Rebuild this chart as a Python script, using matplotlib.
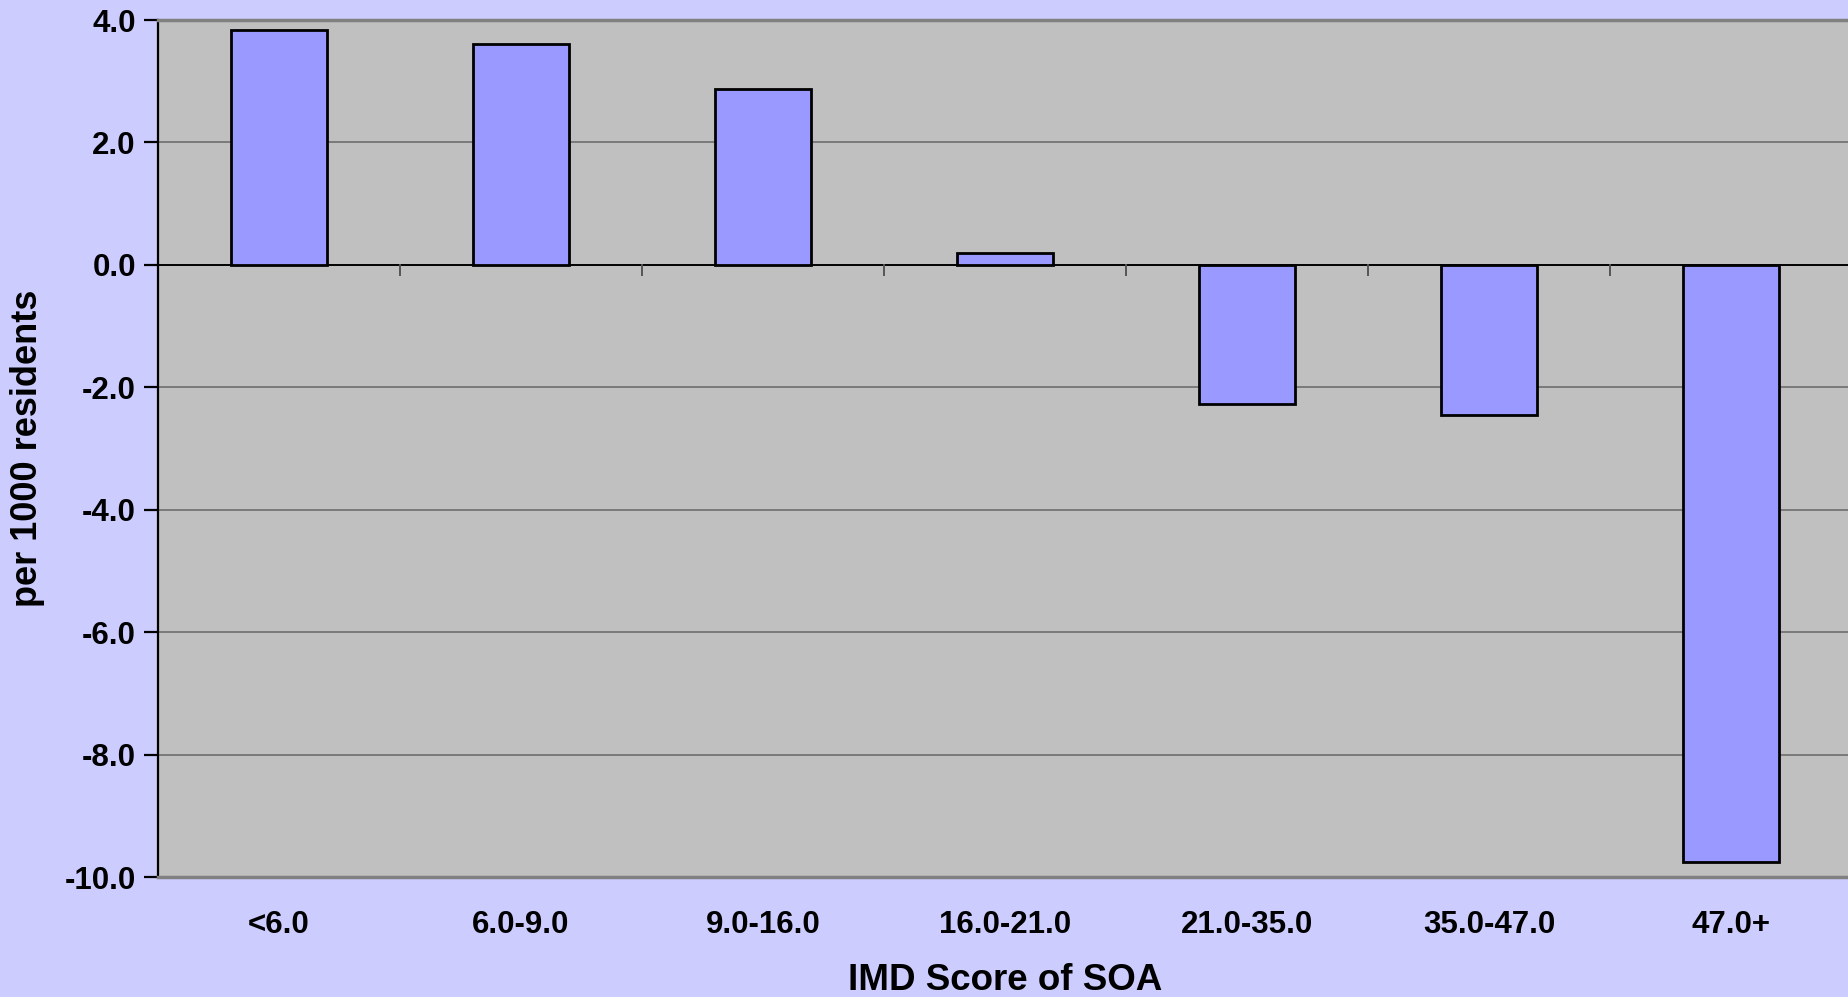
import matplotlib
matplotlib.use("Agg")
import matplotlib.pyplot as plt
import numpy as np

categories = ["<6.0", "6.0-9.0", "9.0-16.0", "16.0-21.0", "21.0-35.0", "35.0-47.0", "47.0+"]
values = [3.84, 3.61, 2.88, 0.19, -2.27, -2.45, -9.75]
y_ticks = [4.0, 2.0, 0.0, -2.0, -4.0, -6.0, -8.0, -10.0]

plt.rcParams["font.family"] = ["Liberation Sans", "DejaVu Sans"]
plt.rcParams["font.weight"] = "bold"

fig = plt.figure(figsize=(18.48, 9.97), dpi=100, facecolor="#CCCCFF")
ax = fig.add_axes([158 / 1848, 1 - 877 / 997, 1694 / 1848, 857 / 997])
ax.set_facecolor("#C0C0C0")

x = np.arange(len(categories))
ax.set_xlim(-0.5, len(categories) - 0.5)
ax.set_ylim(-10, 4)

# horizontal gridlines
for t in y_ticks:
    if t != 0:
        ax.axhline(t, color="#6E6E6E", lw=1.2, zorder=1)

ax.bar(x, values, width=0.4, color="#9999FF", edgecolor="black", linewidth=2.0, zorder=3)

# zero line with category-boundary ticks
ax.axhline(0, color="black", lw=1.4, zorder=2)
for b in np.arange(0.5, len(categories) - 0.5, 1.0):
    ax.plot([b, b], [0, -0.17], color="#555555", lw=1.4, zorder=2, clip_on=False)

for side in ["top", "right", "bottom"]:
    ax.spines[side].set_color("#808080")
ax.spines["top"].set_linewidth(2.5)
ax.spines["bottom"].set_linewidth(2.5)
ax.spines["right"].set_visible(False)
ax.spines["left"].set_color("black")
ax.spines["left"].set_linewidth(1.6)

ax.set_yticks(y_ticks)
ax.set_yticklabels([f"{t:.1f}" for t in y_ticks], fontsize=22.5, fontweight="bold")
ax.tick_params(axis="y", length=10, width=1.6, color="black", pad=6)

ax.set_xticks(x)
ax.set_xticklabels(categories, fontsize=22.5, fontweight="bold")
ax.tick_params(axis="x", length=0, pad=24)

ax.set_xlabel("IMD Score of SOA", fontsize=26.5, fontweight="bold", labelpad=16)
ax.set_ylabel("per 1000 residents", fontsize=26, fontweight="bold", labelpad=14)

fig.savefig("out.png", dpi=100, facecolor=fig.get_facecolor())
